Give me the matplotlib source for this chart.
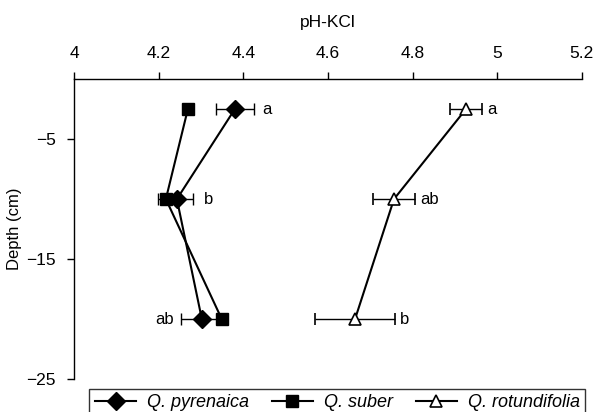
import matplotlib.pyplot as plt
from matplotlib import font_manager
from matplotlib.lines import Line2D

names = {f.name for f in font_manager.fontManager.ttflist}
fam = 'Liberation Sans Narrow' if 'Liberation Sans Narrow' in names else 'Liberation Sans'
plt.rcParams['font.family'] = [fam, 'DejaVu Sans']

depth = [-2.5, -10, -20]

pyr_ph = [4.38, 4.243, 4.302]
pyr_err = [0.045, 0.038, 0.05]
pyr_lab = ['a', 'b', 'ab']

sub_ph = [4.269, 4.217, 4.349]
sub_err = [0.0, 0.019, 0.0]

rot_ph = [4.926, 4.756, 4.664]
rot_err = [0.038, 0.05, 0.094]
rot_lab = ['a', 'ab', 'b']

fig = plt.figure(figsize=(5.95, 4.12), dpi=100)
ax = fig.add_axes([0.1244, 0.080, 0.8536, 0.728])

ekw = dict(ecolor='black', elinewidth=1.0, capsize=4, capthick=1.0)
styles = [
    dict(marker='D', ms=9, mfc='black', mec='black', mew=1.0),
    dict(marker='s', ms=8, mfc='black', mec='black', mew=1.0),
    dict(marker='^', ms=9, mfc='white', mec='black', mew=1.2),
]
ax.errorbar(pyr_ph, depth, xerr=pyr_err, color='black', lw=1.5, zorder=3, **styles[0], **ekw)
ax.errorbar(sub_ph, depth, xerr=sub_err, color='black', lw=1.5, zorder=3, **styles[1], **ekw)
ax.errorbar(rot_ph, depth, xerr=rot_err, color='black', lw=1.5, zorder=3, **styles[2], **ekw)

# significance letters
fs = 12
ax.text(pyr_ph[0] + pyr_err[0] + 0.02, depth[0], pyr_lab[0], va='center', ha='left', fontsize=fs)
ax.text(pyr_ph[1] + pyr_err[1] + 0.025, depth[1], pyr_lab[1], va='center', ha='left', fontsize=fs)
ax.text(pyr_ph[2] - pyr_err[2] - 0.015, depth[2], pyr_lab[2], va='center', ha='right', fontsize=fs)
for x, e, y, t in zip(rot_ph, rot_err, depth, rot_lab):
    ax.text(x + e + 0.012, y, t, va='center', ha='left', fontsize=fs)

ax.set_xlim(4, 5.2)
ax.set_ylim(-25, 0)
ax.set_xticks([4, 4.2, 4.4, 4.6, 4.8, 5, 5.2])
ax.set_xticklabels(['4', '4.2', '4.4', '4.6', '4.8', '5', '5.2'])
ax.set_yticks([-5, -15, -25])
ax.set_yticklabels(['\u22125', '\u221215', '\u221225'])
ax.xaxis.tick_top()
ax.xaxis.set_label_position('top')
ax.spines['bottom'].set_visible(False)
ax.spines['right'].set_visible(False)
ax.spines['top'].set_linewidth(1.0)
ax.spines['left'].set_linewidth(1.0)
ax.tick_params(labelsize=12.5, length=5, width=1.0, direction='out', pad=8)
ax.set_xlabel('pH-KCl', fontsize=12.5, labelpad=14)
ax.set_ylabel('Depth (cm)', fontsize=12, labelpad=3)

handles = [Line2D([], [], color='black', lw=1.5, **s) for s in styles]
labels = ['Q. pyrenaica', 'Q. suber', 'Q. rotundifolia']
leg = fig.legend(handles, labels, loc='upper left', bbox_to_anchor=(0.135, 0.078), ncol=3,
                 prop={'style': 'italic', 'size': 13}, frameon=True, fancybox=False,
                 edgecolor='black', borderpad=0.3, handlelength=2.3, columnspacing=1.25,
                 handletextpad=0.6)
leg.get_frame().set_linewidth(1.0)

fig.savefig('out.png', dpi=100)
